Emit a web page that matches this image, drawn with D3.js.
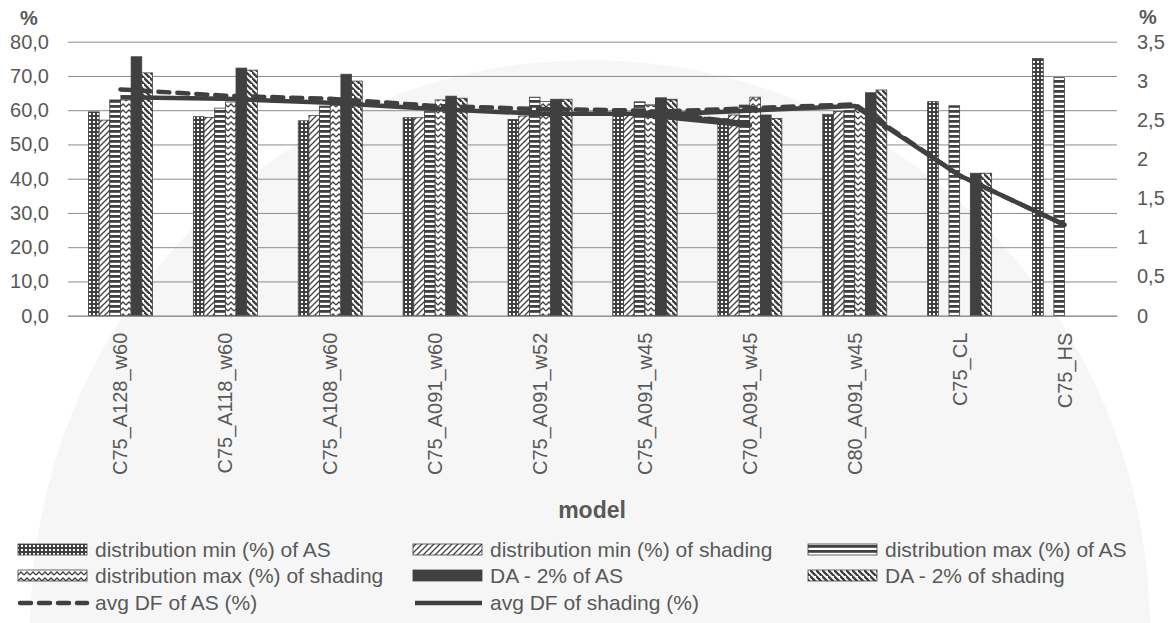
<!DOCTYPE html>
<html>
<head>
<meta charset="utf-8">
<script src="https://cdn.jsdelivr.net/npm/d3@7"></script>
<style>
    body { margin: 0; background: #fff; }
    text { font-family: "Liberation Sans", Arial, sans-serif; fill: #595959; }
</style>
</head>
<body>
<svg id="chart" width="1172" height="623"></svg>
<script>
    // values
    const categories = ["C75_A128_w60", "C75_A118_w60", "C75_A108_w60", "C75_A091_w60", "C75_A091_w52",
        "C75_A091_w45", "C70_A091_w45", "C75_A091_w45", "C80_A091_w45", "C75_CL", "C75_HS"]
    const minAS      = [59.5, 58.1, 56.9, 57.8, 57.3, 58.3, 57.6, 57.3, 58.8, 62.5, 75.1]
    const minShading = [57.1, 57.9, 58.5, 57.8, 58.3, 58.8, 58.6, 58.6, 59.6, null, null]
    const maxAS      = [63.0, 60.6, 61.2, 59.6, 63.8, 62.4, 61.5, 62.4, 59.9, 61.3, 69.5]
    const maxShading = [63.0, 62.4, 61.5, 63.0, 62.5, 61.5, 63.8, 61.5, 60.3, null, null]
    const daAS       = [75.6, 72.3, 70.5, 64.1, 63.2, 63.6, 58.6, 63.5, 65.1, 41.6, null]
    const daShading  = [70.9, 71.7, 68.5, 63.5, 63.2, 63.2, 57.6, 63.0, 65.9, 41.6, null]
    const dfAS       = [2.89, 2.81, 2.77, 2.68, 2.64, 2.62, 2.45, 2.60, 2.70, 1.79, 1.16]
    const dfShading  = [2.79, 2.77, 2.72, 2.64, 2.58, 2.58, 2.43, 2.56, 2.68, 1.79, 1.16]
    const barNames = ["distribution min (%) of AS", "distribution min (%) of shading", "distribution max (%) of AS",
        "distribution max (%) of shading", "DA - 2% of AS", "DA - 2% of shading"]
    const lineNames = ["avg DF of AS (%)", "avg DF of shading (%)"]
    const leftTicks = [0, 10, 20, 30, 40, 50, 60, 70, 80]
    const rightTicks = [0, 0.5, 1, 1.5, 2, 2.5, 3, 3.5]

    const dark = "#404040"
    const svg = d3.select("#chart")

    // faint seal shape behind the chart (watermark of the source page)
    svg.append("ellipse").attr("cx", 590).attr("cy", 630).attr("rx", 560).attr("ry", 570).attr("fill", "#f6f6f6")

    // fill patterns for the bars
    let defs = svg.append("defs")
    let p
    p = defs.append("pattern").attr("id", "pMinAS").attr("patternUnits", "userSpaceOnUse").attr("width", 4).attr("height", 4)
    p.append("rect").attr("width", 4).attr("height", 4).attr("fill", dark)
    p.append("rect").attr("x", 1).attr("y", 1).attr("width", 2).attr("height", 2).attr("fill", "#fff")

    p = defs.append("pattern").attr("id", "pMinSh").attr("patternUnits", "userSpaceOnUse").attr("width", 6).attr("height", 6)
    p.append("rect").attr("width", 6).attr("height", 6).attr("fill", "#fff")
    p.append("path").attr("d", "M-1,7 L7,-1 M-4,4 L4,-4 M2,10 L10,2").attr("stroke", dark).attr("stroke-width", 1.3)

    p = defs.append("pattern").attr("id", "pMaxAS").attr("patternUnits", "userSpaceOnUse").attr("width", 5).attr("height", 5)
    p.append("rect").attr("width", 5).attr("height", 5).attr("fill", "#fff")
    p.append("rect").attr("width", 5).attr("height", 2.8).attr("fill", dark)

    p = defs.append("pattern").attr("id", "pMaxSh").attr("patternUnits", "userSpaceOnUse").attr("width", 6).attr("height", 6)
    p.append("rect").attr("width", 6).attr("height", 6).attr("fill", "#fff")
    p.append("path").attr("d", "M0,5 L3,2 L6,5").attr("fill", "none").attr("stroke", dark).attr("stroke-width", 1.3)

    p = defs.append("pattern").attr("id", "pDASh").attr("patternUnits", "userSpaceOnUse").attr("width", 6).attr("height", 6)
    p.append("rect").attr("width", 6).attr("height", 6).attr("fill", "#fff")
    p.append("path").attr("d", "M-1,-1 L7,7 M-4,2 L2,8 M4,-4 L10,2").attr("stroke", dark).attr("stroke-width", 2.4)

    const fills = ["url(#pMinAS)", "url(#pMinSh)", "url(#pMaxAS)", "url(#pMaxSh)", dark, "url(#pDASh)"]
    const barSeries = [minAS, minShading, maxAS, maxShading, daAS, daShading]

    // scales
    let x = d3.scaleBand().domain(categories).range([68, 1117])
    let bw = x.bandwidth()
    let slot = d3.scaleBand().domain(d3.range(6)).range([(bw - 64) / 2, (bw + 64) / 2])
    let yL = d3.scaleLinear().domain([0, 80]).range([315.7, 41.7])
    let yR = d3.scaleLinear().domain([0, 3.5]).range([315.7, 41.7])

    // gridlines
    let grid = svg.append("g").attr("transform", "translate(68,0)")
        .call(d3.axisLeft(yL).tickValues(leftTicks).tickSize(-(1117 - 68)).tickFormat(""))
    grid.select(".domain").remove()
    grid.selectAll("line").attr("stroke", "#8c8c8c").attr("stroke-width", 1)

    // bars
    let rows = []
    barSeries.forEach((s, i) => s.forEach((v, j) => { if (v != null) rows.push({ s: i, cat: categories[j], v: v }) }))
    svg.append("g").selectAll("rect").data(rows).enter().append("rect")
        .attr("x", d => x(d.cat) + slot(d.s))
        .attr("width", slot.bandwidth())
        .attr("y", d => yL(d.v))
        .attr("height", d => yL(0) - yL(d.v))
        .attr("fill", d => fills[d.s])
        .attr("stroke", dark).attr("stroke-width", 0.8)

    // lines on right axis
    let line = d3.line()
        .defined(d => d != null)
        .x((d, i) => x(categories[i]) + bw / 2)
        .y(d => yR(d))
    svg.append("path").datum(dfShading).attr("d", line)
        .attr("fill", "none").attr("stroke", dark).attr("stroke-width", 4.5).attr("stroke-linejoin", "round")
    svg.append("path").datum(dfAS).attr("d", line)
        .attr("fill", "none").attr("stroke", dark).attr("stroke-width", 4.5)
        .attr("stroke-dasharray", "11,8").attr("stroke-linecap", "round")

    // axes
    let fmtL = d => d3.format(".1f")(d).replace(".", ",")
    let fmtR = d => String(d).replace(".", ",")
    let axL = svg.append("g").attr("transform", "translate(68,0)")
        .call(d3.axisLeft(yL).tickValues(leftTicks).tickSize(0).tickPadding(19).tickFormat(fmtL))
    let axR = svg.append("g").attr("transform", "translate(1117,0)")
        .call(d3.axisRight(yR).tickValues(rightTicks).tickSize(0).tickPadding(20).tickFormat(fmtR))
    let axB = svg.append("g").attr("transform", "translate(0,315.7)")
        .call(d3.axisBottom(x).tickSize(0))
    for (let a of [axL, axR]) {
        a.select(".domain").remove()
        a.selectAll("text").attr("font-size", 20).attr("font-family", null).style("fill", "#595959")
    }
    axB.select(".domain").attr("stroke", "#8c8c8c")
    axB.selectAll("text")
        .attr("font-size", 20).attr("font-family", null).style("fill", "#595959")
        .attr("transform", "rotate(-90)")
        .attr("text-anchor", "end")
        .attr("x", -17).attr("y", 0).attr("dy", "0.35em")

    // titles
    svg.append("text").attr("x", 20).attr("y", 25).attr("font-size", 20).attr("font-weight", "bold").text("%")
    svg.append("text").attr("x", 1139).attr("y", 24).attr("font-size", 20).attr("font-weight", "bold").text("%")
    svg.append("text").attr("x", 592).attr("y", 518).attr("text-anchor", "middle")
        .attr("font-size", 23).attr("font-weight", "bold").text("model")

    // legend
    const colX = [18, 413, 808]
    const rowY = [557, 583, 610]
    let legend = svg.append("g")
    barNames.forEach((name, i) => {
        let lx = colX[i % 3], ly = rowY[Math.floor(i / 3)]
        legend.append("rect").attr("x", lx).attr("y", ly - 13).attr("width", 69).attr("height", 11)
            .attr("fill", fills[i]).attr("stroke", dark).attr("stroke-width", 0.8)
        legend.append("text").attr("x", lx + 77).attr("y", ly).attr("font-size", 21).text(name)
    })
    lineNames.forEach((name, i) => {
        let lx = colX[i], ly = rowY[2]
        let l = legend.append("line").attr("x1", lx + 2).attr("x2", lx + 69).attr("y1", ly - 7).attr("y2", ly - 7)
            .attr("stroke", dark).attr("stroke-width", 4.5)
        if (i === 0) l.attr("stroke-dasharray", "11,8").attr("stroke-linecap", "round")
        legend.append("text").attr("x", lx + 77).attr("y", ly).attr("font-size", 21).text(name)
    })
</script>
</body>
</html>
